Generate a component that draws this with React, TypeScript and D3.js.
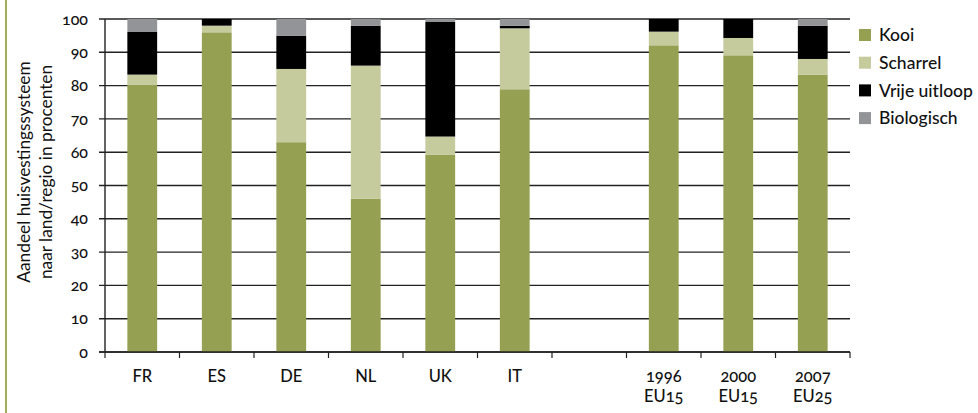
import React from "react";
import * as d3 from "d3";

const categories = ["FR", "ES", "DE", "NL", "UK", "IT", "", "1996", "2000", "2007"];
const subLabels = ["", "", "", "", "", "", "", "EU15", "EU15", "EU25"];
const kooi = [80.2, 96, 63, 46, 59.3, 78.9, 0, 92.1, 89.1, 83.3];
const scharrel = [3.1, 2, 22, 40, 5.4, 18.3, 0, 4.1, 5.2, 4.7];
const vrije = [12.8, 2, 10, 12, 34.4, 0.8, 0, 3.8, 5.7, 10];
const bio = [3.9, 0, 5, 2, 0.9, 2, 0, 0, 0, 2];
const seriesNames = ["Kooi", "Scharrel", "Vrije uitloop", "Biologisch"];
const seriesColors = ["#96a052", "#c5cb9d", "#000000", "#929497"];
const yTicks = [0, 10, 20, 30, 40, 50, 60, 70, 80, 90, 100];

const W = 978;
const H = 413;
const FONT = "Lato, 'Open Sans', sans-serif";
const onum = { fontVariantNumeric: "oldstyle-nums" as const };

export default function App() {
  const x = d3
    .scaleBand<number>()
    .domain(categories.map((_, i) => i))
    .range([105, 850])
    .paddingInner(0.6)
    .paddingOuter(0.3);
  const y = d3.scaleLinear().domain([0, 100]).range([352, 19]);

  const rows = categories.map((c, i) => ({
    i,
    Kooi: kooi[i],
    Scharrel: scharrel[i],
    "Vrije uitloop": vrije[i],
    Biologisch: bio[i],
  }));
  const stacked = d3.stack<any>().keys(seriesNames)(rows);

  const x0 = x.range()[0];
  const step = x.step();
  const boundaries = d3.range(categories.length + 1).map((k) => x0 + k * step);

  return (
    <svg
      width={W}
      height={H}
      style={{ position: "absolute", left: 0, top: 0, background: "#fff" }}
      fontFamily={FONT}
    >
      <line x1={6} x2={6} y1={0} y2={H} stroke="#a3ae5c" strokeWidth={2} />

      {yTicks.map((t) => (
        <g key={t}>
          <line x1={99} x2={850} y1={y(t)} y2={y(t)} stroke="#222" strokeWidth={1.4} />
          <text
            x={88}
            y={y(t)}
            dy="0.35em"
            textAnchor="end"
            fontSize={16}
            fontWeight={500}
            fill="#111"
            style={onum}
          >
            {t}
          </text>
        </g>
      ))}

      {stacked.map((s, si) => (
        <g key={s.key} fill={seriesColors[si]}>
          {s.map((d, i) =>
            categories[i] === "" || d[1] - d[0] <= 0 ? null : (
              <rect
                key={i}
                x={x(i)!}
                width={x.bandwidth()}
                y={y(d[1])}
                height={y(d[0]) - y(d[1])}
              />
            )
          )}
        </g>
      ))}

      <line x1={105} x2={105} y1={19} y2={352} stroke="#222" strokeWidth={1.4} />
      <line x1={99} x2={850} y1={352} y2={352} stroke="#222" strokeWidth={1.4} />
      {boundaries.map((b, k) => (
        <line key={k} x1={b} x2={b} y1={352} y2={358} stroke="#222" strokeWidth={1.2} />
      ))}

      {categories.map((c, i) => {
        const cx = x(i)! + x.bandwidth() / 2;
        if (!c) return null;
        return (
          <g key={i}>
            <text x={cx} y={382} textAnchor="middle" fontSize={16.5} fontWeight={500} fill="#111" style={onum}>
              {c}
            </text>
            {subLabels[i] && (
              <text x={cx} y={401.5} textAnchor="middle" fontSize={16.5} fontWeight={500} fill="#111" style={onum}>
                {subLabels[i]}
              </text>
            )}
          </g>
        );
      })}

      <g transform={`translate(0,172) rotate(-90)`}>
        <text x={0} y={30} textAnchor="middle" fontSize={17.3} fill="#111">
          Aandeel huisvestingssysteem
        </text>
        <text x={0} y={52} textAnchor="middle" fontSize={17.3} fill="#111">
          naar land/regio in procenten
        </text>
      </g>

      {seriesNames.map((n, i) => {
        const cy = 35 + i * 27.7;
        return (
          <g key={n}>
            <rect x={859} y={cy - 6} width={12} height={12} fill={seriesColors[i]} />
            <text x={879} y={cy} dy="0.35em" fontSize={17.5} fontWeight={500} fill="#111">
              {n}
            </text>
          </g>
        );
      })}
    </svg>
  );
}
